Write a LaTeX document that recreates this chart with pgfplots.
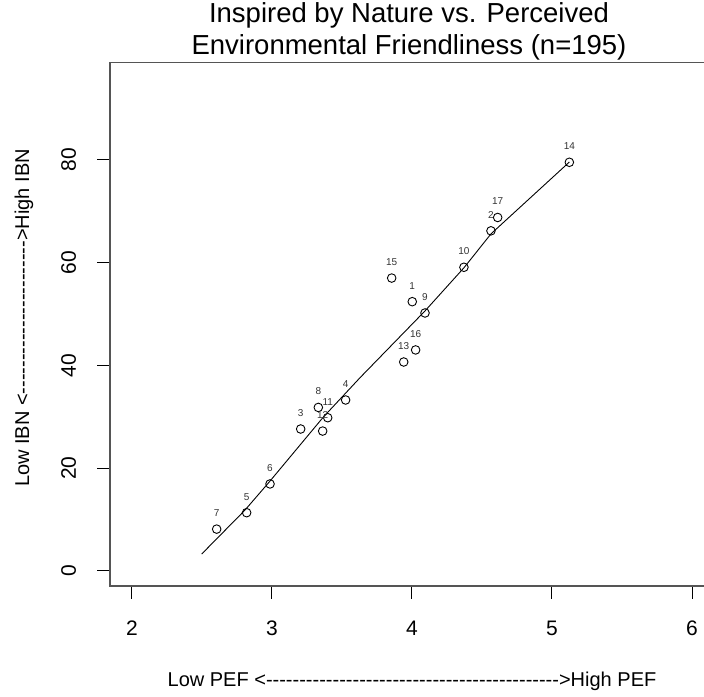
\documentclass[border=0pt]{standalone}
\usepackage{fontspec}
\setmainfont{Liberation Sans}[Ligatures=TeXOff]
\usepackage{pgfplots}
\pgfplotsset{compat=1.18}
\definecolor{framegray}{HTML}{555555}
\definecolor{lblgray}{HTML}{333333}
\begin{document}
\begin{tikzpicture}[x=1pt,y=1pt]
\begin{axis}[
  at={(110pt,110pt)}, anchor=south west,
  scale only axis, width=604.4pt, height=523.3pt,
  xmin=1.843, xmax=6.16, ymin=-2.98, ymax=98.95,
  xtick={2,3,4,5,6}, ytick={0,20,40,60,80},
  tick pos=left,
  tick align=outside,
  major tick length=12.5pt,
  tick style={black, line width=1pt},
  axis line style={framegray, line width=1.3pt},
  /pgf/number format/assume math mode=true,
  xticklabel style={font=\fontsize{21}{25}\selectfont},
  yticklabel style={font=\fontsize{21}{25}\selectfont, rotate=90, anchor=south},
  xticklabel shift=19pt,
  yticklabel shift=18pt,
  clip=false,
]
\addplot[only marks, mark=o, mark size=4.3pt, mark options={line width=0.9pt, black},
  visualization depends on={value \thisrow{lab}\as\lbl},
  nodes near coords=\lbl,
  every node near coord/.append style={anchor=center, yshift=16pt, font=\fontsize{10}{11}\selectfont, text=lblgray}]
table {
x y lab
4.002 52.4 1
4.564 66.2 2
3.205 27.6 3
3.526 33.25 4
2.819 11.3 5
2.986 16.9 6
2.605 8.1 7
3.331 31.8 8
4.093 50.2 9
4.371 59.1 10
3.398 29.8 11
3.362 27.2 12
3.941 40.65 13
5.124 79.55 14
3.855 57.0 15
4.026 43.0 16
4.612 68.8 17
};
\addplot[black, line width=0.9pt] coordinates {
(2.498,3.25) (2.807,11.8) (2.981,17.3) (3.366,29.9) (3.629,37.6) (4.093,50.6) (4.371,59.0) (4.564,65.6) (5.124,79.6)
};
\end{axis}
\node[anchor=base, font=\fontsize{27.5}{33}\selectfont] at (409,673) {Inspired by Nature vs. Perceived};
\node[anchor=base, font=\fontsize{27.5}{33}\selectfont] at (409,641) {Environmental Friendliness (n=195)};
\node[anchor=base, font=\fontsize{20}{24}\selectfont] at (412,9.3) {Low PEF <-------------------------------------------->High PEF};
\node[anchor=base, rotate=90, font=\fontsize{20}{24}\selectfont] at (29,378) {Low IBN <----------------------->High IBN};
\pgfresetboundingbox
\path (0,0) rectangle (704,696);
\end{tikzpicture}
\end{document}
